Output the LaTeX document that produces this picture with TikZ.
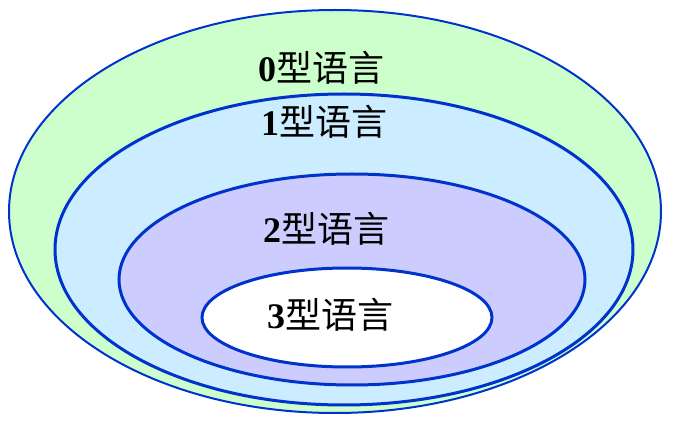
\documentclass[tikz,border=0pt]{standalone}
\usepackage{fontspec}
\setmainfont{Liberation Serif}
\newfontfamily\cjk{Noto Sans CJK SC}
\usetikzlibrary{shapes.geometric}
\definecolor{ringblue}{RGB}{0,51,204}
\definecolor{zfill}{RGB}{204,255,204}
\definecolor{ofill}{RGB}{204,236,255}
\definecolor{tfill}{RGB}{204,204,255}
\tikzset{
  ring/.style={ellipse, draw=ringblue, inner sep=0pt, line width=3pt},
  lab/.style={font=\fontsize{36}{40}\selectfont, text=black, inner sep=0pt}
}
\begin{document}
\begin{tikzpicture}[x=1pt,y=-1pt]
\useasboundingbox (0,0) rectangle (673,425);
\node[ring, fill=zfill, line width=2pt, minimum width=652pt, minimum height=403pt] (e0) at (335,211.5) {};
\node[ring, fill=ofill, minimum width=578pt, minimum height=311pt] (e1) at (344,249.5) {};
\node[ring, fill=tfill, minimum width=466pt, minimum height=211pt] (e2) at (352,279.5) {};
\node[ring, fill=white, minimum width=290pt, minimum height=99pt] (e3) at (347,317.5) {};
\node[lab] (t0) at (321,68) {\textbf{0}{\cjk 型语言}};
\node[lab] (t1) at (324,122) {\textbf{1}{\cjk 型语言}};
\node[lab] (t2) at (326,229) {\textbf{2}{\cjk 型语言}};
\node[lab] (t3) at (330,315) {\textbf{3}{\cjk 型语言}};
\end{tikzpicture}
\end{document}
